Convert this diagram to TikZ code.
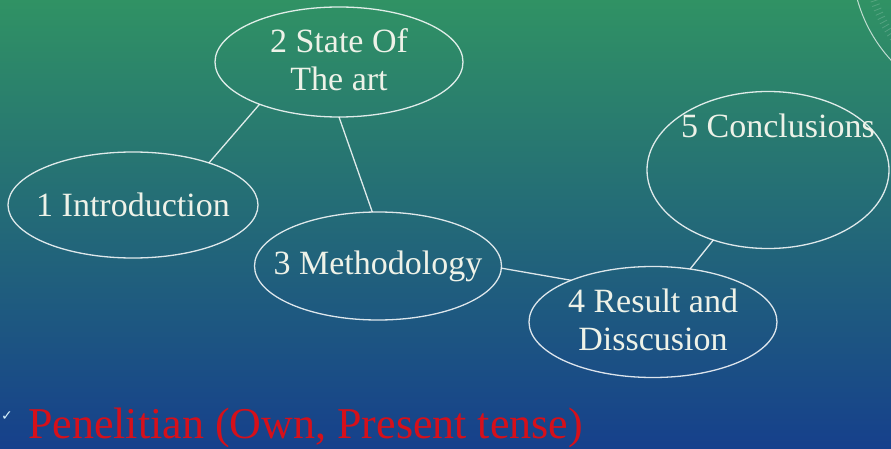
\documentclass[tikz,border=0pt]{standalone}
\usepackage{fontspec}
\setmainfont{Liberation Serif}
\newfontfamily\symfont{DejaVu Sans}
\usetikzlibrary{shapes.geometric}
\definecolor{bgtop}{RGB}{48,146,100}
\definecolor{bgmid}{RGB}{30,108,136}
\definecolor{bgbot}{RGB}{22,64,140}
\definecolor{penred}{RGB}{214,16,26}
\definecolor{chalk}{RGB}{238,242,232}

\begin{document}
\begin{tikzpicture}[x=1pt,y=-1pt,
    bubble/.style={ellipse,draw=white,draw opacity=0.85,line width=1.3,inner sep=0,outer sep=0},
    lbl/.style={text=chalk,font=\fontsize{34}{38}\selectfont,align=center,inner sep=0},
    link/.style={draw=white,draw opacity=0.85,line width=1.3}
    ]
    \def\W{891}  % picture width
    \def\H{449}  % picture height
    \def\R{148}  % dial radius
    \useasboundingbox (0,0) rectangle (\W,\H);
    \shade[shading angle=40,top color=bgtop,middle color=bgmid,bottom color=bgbot] (0,0) rectangle (\W,\H);

    % dial in the corner
    \begin{scope}[shift={(1000,-40)}]
        \draw[white,opacity=0.7,line width=1] (0,0) circle (\R);
        \foreach \a in {128,130,...,170} {
            \draw[white,opacity=0.18,line width=0.8] (\a:\R-20) -- (\a:\R-12);
        }
    \end{scope}

    \node[bubble,minimum width=250,minimum height=106] (intro) at (133,205) {};
    \node[bubble,minimum width=248,minimum height=110] (soa) at (339,62) {};
    \node[bubble,minimum width=247,minimum height=108] (meth) at (378,266) {};
    \node[bubble,minimum width=248,minimum height=111] (res) at (653,322) {};
    \node[bubble,minimum width=242,minimum height=157] (concl) at (768,170) {};

    \node[lbl] (introtxt) at (intro) {1 Introduction};
    \node[lbl] (soatxt) at ([yshift=2pt]soa.center) {2 State Of\\The art};
    \node[lbl] (methtxt) at (meth) {3 Methodology};
    \node[lbl] (restxt) at ([yshift=2pt]res.center) {4 Result and\\Disscusion};
    \node[lbl] (concltxt) at ([xshift=10pt,yshift=44pt]concl.center) {5 Conclusions};

    \draw[link] (intro.29) -- (soa.208);
    \draw[link] (soa.270) -- (meth.96);
    \draw[link] (meth.359) -- (res.153);
    \draw[link] (res.55) -- (concl.232);

    \node[text=white!85!cyan,font=\symfont\fontsize{14}{14}\selectfont,inner sep=0] (tick) at (7,416) {✓};
    \node[text=penred,font=\fontsize{44}{50}\selectfont,anchor=base west,inner sep=0] (title) at (28,438) {Penelitian (Own, Present tense)};
\end{tikzpicture}
\end{document}
